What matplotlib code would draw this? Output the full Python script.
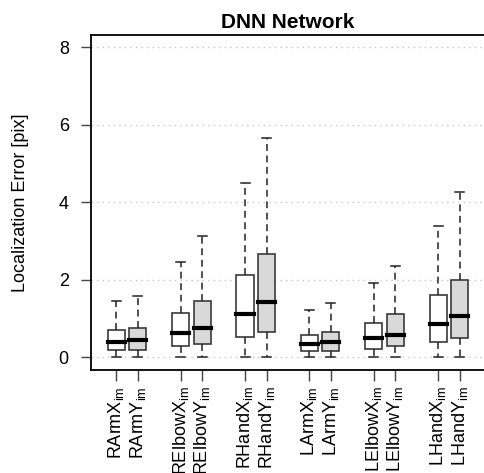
import numpy as np
import matplotlib
matplotlib.use("Agg")
import matplotlib.pyplot as plt

plt.rcParams['font.family'] = ['Liberation Sans', 'DejaVu Sans']
plt.rcParams['mathtext.fontset'] = 'custom'
plt.rcParams['mathtext.rm'] = 'Liberation Sans'
plt.rcParams['mathtext.it'] = 'Liberation Sans:italic'
plt.rcParams['mathtext.bf'] = 'Liberation Sans:bold'

# joint coordinates, image x / y per joint
joints = ["RArm", "RElbow", "RHand", "LArm", "LElbow", "LHand"]
axis_names = ["X", "Y"]

# box statistics, order: RArmX, RArmY, RElbowX, RElbowY, ...
q1 = [0.20, 0.20, 0.29, 0.34, 0.52, 0.67, 0.18, 0.18, 0.23, 0.29, 0.41, 0.49]
medians = [0.41, 0.45, 0.64, 0.75, 1.13, 1.42, 0.35, 0.39, 0.50, 0.58, 0.87, 1.08]
q3 = [0.70, 0.75, 1.16, 1.47, 2.13, 2.66, 0.57, 0.67, 0.90, 1.11, 1.60, 1.99]
whislo = [0.0] * 12
whishi = [1.45, 1.59, 2.46, 3.14, 4.51, 5.67, 1.22, 1.41, 1.91, 2.36, 3.38, 4.28]

y_ticks = [0, 2, 4, 6, 8]

labels = []
for j in joints:
    for a in axis_names:
        labels.append(j + a + r"$_{\mathrm{im}}$")

# pairs at 1,2  4,5  7,8 ...
positions = []
for i in range(len(joints)):
    positions += [3 * i + 1, 3 * i + 2]

stats = []
for i in range(len(labels)):
    stats.append(dict(q1=q1[i], med=medians[i], q3=q3[i],
                      whislo=whislo[i], whishi=whishi[i], fliers=[]))

fig = plt.figure(figsize=(4.84, 4.73), dpi=100)
ax = fig.add_axes([0.188, 0.218, 0.814, 0.708])

ax.set_axisbelow(True)
for t in y_ticks:
    ax.axhline(t, color="#c8c8c8", lw=1.0, ls=(0, (1, 3)), zorder=0)

bp = ax.bxp(stats, positions=positions, widths=0.8, patch_artist=True,
            showfliers=False, capwidths=0.42,
            boxprops=dict(edgecolor="#3a3a3a", linewidth=1.2),
            medianprops=dict(color="black", linewidth=3.0, solid_capstyle="projecting"),
            whiskerprops=dict(color="#222222", linewidth=1.1, linestyle=(0, (4.5, 3))),
            capprops=dict(color="#222222", linewidth=1.1))

for k, box in enumerate(bp["boxes"]):
    box.set_facecolor("white" if k % 2 == 0 else "#d9d9d9")

ax.set_xlim(-0.18, 18.18)
ax.set_ylim(-0.32, 8.32)
ax.set_yticks(y_ticks)
ax.set_xticks(positions)
ax.set_xticklabels(labels, rotation=90, fontsize=13)
ax.tick_params(axis="y", direction="out", length=7, width=1, color="#444444",
               pad=9, labelsize=13)
ax.tick_params(axis="x", direction="out", length=8, width=1, color="#444444",
               pad=4)

for s in ax.spines.values():
    s.set_linewidth(1.3)
    s.set_color("black")

ax.set_ylabel("Localization Error [pix]", fontsize=13, va="center")
ax.yaxis.set_label_coords(-0.178, 0.5)
ax.set_title("DNN Network", fontsize=15, fontweight="bold", pad=5)

fig.savefig("out.png", dpi=100)
